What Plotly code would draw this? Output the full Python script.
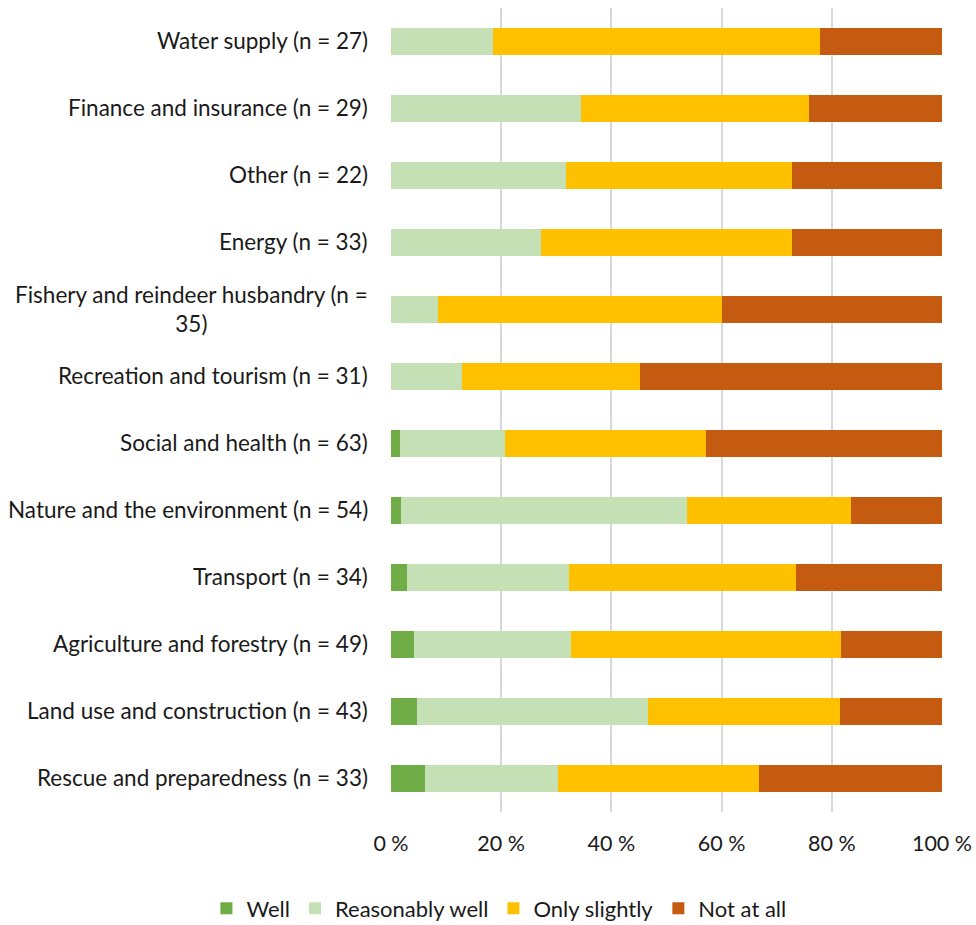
import plotly.graph_objects as go

# Sectors, listed top to bottom as drawn
sectors = [
    "Water supply (n = 27)",
    "Finance and insurance (n = 29)",
    "Other (n = 22)",
    "Energy (n = 33)",
    "Fishery and reindeer husbandry (n =<br>35)",
    "Recreation and tourism (n = 31)",
    "Social and health (n = 63)",
    "Nature and the environment (n = 54)",
    "Transport (n = 34)",
    "Agriculture and forestry (n = 49)",
    "Land use and construction (n = 43)",
    "Rescue and preparedness (n = 33)",
]

# Share of responses (%) per answer option
well = [0, 0, 0, 0, 0, 0, 1.6, 1.9, 2.9, 4.1, 4.7, 6.1]
reasonably_well = [18.5, 34.5, 31.8, 27.3, 8.6, 12.9, 19.0, 51.9, 29.4, 28.6, 41.9, 24.2]
only_slightly = [59.3, 41.4, 40.9, 45.4, 51.4, 32.3, 36.5, 29.6, 41.2, 49.0, 34.9, 36.4]
not_at_all = [22.2, 24.1, 27.3, 27.3, 40.0, 54.8, 42.9, 16.6, 26.5, 18.3, 18.5, 33.3]

series_names = ["Well", "Reasonably well", "Only slightly", "Not at all"]
series_values = [well, reasonably_well, only_slightly, not_at_all]
series_colors = ["#70AD47", "#C5E0B4", "#FFC000", "#C55A11"]

x_ticks = [0, 20, 40, 60, 80, 100]
x_tick_text = ["0 %", "20 %", "40 %", "60 %", "80 %", "100 %"]

FONT = "Lato, Carlito, Calibri, sans-serif"
TEXT_COLOR = "#1a1a1a"

fig = go.Figure()
for name, vals, color in zip(series_names, series_values, series_colors):
    fig.add_trace(go.Bar(
        y=sectors,
        x=vals,
        name=name,
        orientation="h",
        marker=dict(color=color, line=dict(width=0)),
        hoverinfo="x+y+name",
    ))

# Category labels as annotations so the wrapped label stays centred
for s in sectors:
    fig.add_annotation(
        x=0, xref="paper", y=s, yref="y",
        text=s, showarrow=False,
        xanchor="right", yanchor="middle", align="center",
        xshift=-21, yshift=1,
        font=dict(family=FONT, size=22.5, color=TEXT_COLOR),
    )

fig.update_layout(
    barmode="stack",
    bargap=0.6,
    width=976,
    height=925,
    margin=dict(l=391, r=34, t=8, b=113, autoexpand=False),
    paper_bgcolor="white",
    plot_bgcolor="white",
    font=dict(family=FONT, size=21.5, color=TEXT_COLOR),
    showlegend=True,
    # legend anchored left of the plot area so it can use the full width below it
    legend=dict(
        orientation="h",
        xref="paper", yref="paper",
        x=-0.335, xanchor="left",
        y=-0.12, yanchor="middle",
        font=dict(family=FONT, size=22, color=TEXT_COLOR),
        traceorder="normal",
        itemwidth=30,
    ),
    xaxis=dict(
        range=[0, 100],
        tickvals=x_ticks,
        ticktext=x_tick_text,
        showgrid=True,
        gridcolor="#d9d9d9",
        gridwidth=2,
        zeroline=False,
        showline=False,
        ticks="",
        ticklabelstandoff=16,
        tickfont=dict(family=FONT, size=21.5, color=TEXT_COLOR),
        automargin=False,
        fixedrange=True,
    ),
    yaxis=dict(
        autorange="reversed",
        showticklabels=False,
        showgrid=False,
        zeroline=False,
        showline=False,
        ticks="",
        fixedrange=True,
    ),
)

fig.write_html("out.html")
